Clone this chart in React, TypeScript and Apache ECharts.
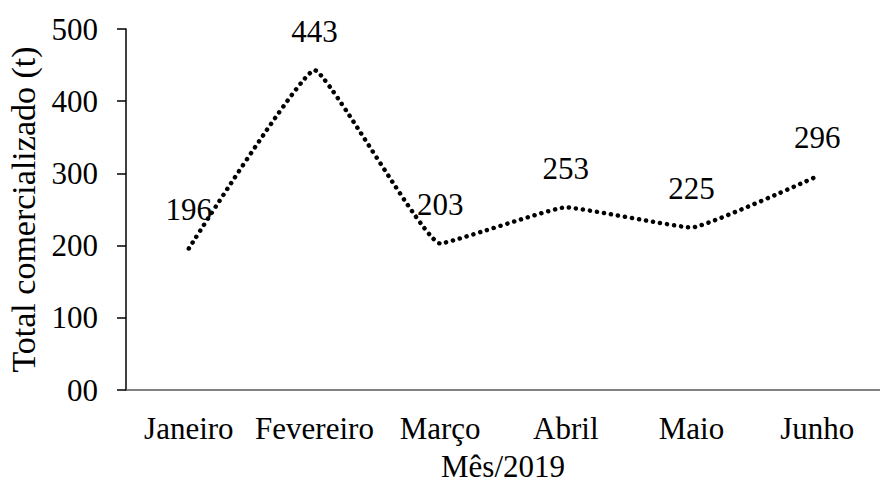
import React, { useEffect, useRef } from "react";
import * as echarts from "echarts";

const months = ["Janeiro", "Fevereiro", "Março", "Abril", "Maio", "Junho"];
const totals = [196, 443, 203, 253, 225, 296];
const yTicks = [0, 100, 200, 300, 400, 500];

const FONT = "Liberation Serif";
const FS = 31;

export default function App() {
  const ref = useRef<HTMLDivElement>(null);
  useEffect(() => {
    if (!ref.current) return;
    const chart = echarts.init(ref.current, null, { renderer: "svg" });
    chart.setOption({
      animation: false,
      backgroundColor: "#ffffff",
      textStyle: { fontFamily: FONT, color: "#000" },
      grid: { left: 126, right: 0, top: 29, bottom: 93, containLabel: false, outerBoundsMode: "none" },
      xAxis: {
        type: "category",
        data: months,
        boundaryGap: true,
        name: "Mês/2019",
        nameLocation: "middle",
        nameGap: 61,
        nameTextStyle: { fontFamily: FONT, fontSize: FS, color: "#000" },
        axisLine: { lineStyle: { color: "#595959", width: 1.5 } },
        axisTick: { show: false },
        axisLabel: { fontFamily: FONT, fontSize: FS, color: "#000", margin: 23, interval: 0 },
        splitLine: { show: false },
      },
      yAxis: {
        type: "value",
        min: yTicks[0],
        max: yTicks[yTicks.length - 1],
        interval: 100,
        name: "Total comercializado (t)",
        nameLocation: "middle",
        nameGap: 85,
        nameRotate: 90,
        nameTextStyle: { fontFamily: FONT, fontSize: 34, color: "#000" },
        axisLine: { show: true, lineStyle: { color: "#000", width: 1.5 } },
        axisTick: { show: true, length: 9, lineStyle: { color: "#000", width: 1.5 } },
        axisLabel: {
          fontFamily: FONT,
          fontSize: FS,
          color: "#000",
          margin: 28,
          formatter: (v: number) => (v === 0 ? "00" : String(v)),
        },
        splitLine: { show: false },
      },
      series: [
        {
          type: "line",
          data: totals,
          smooth: 0.1,
          symbol: "circle",
          symbolSize: 1,
          showSymbol: true,
          itemStyle: { color: "rgba(0,0,0,0)" },
          lineStyle: { color: "#000", width: 4.5, type: [0.1, 7], cap: "round" },
          label: {
            show: true,
            position: "top",
            distance: 23,
            fontFamily: FONT,
            fontSize: FS,
            color: "#000",
          },
        },
      ],
    });
    return () => chart.dispose();
  }, []);
  return (
    <div
      ref={ref}
      style={{ position: "fixed", left: 0, top: 0, width: 880, height: 483, background: "#fff" }}
    />
  );
}
